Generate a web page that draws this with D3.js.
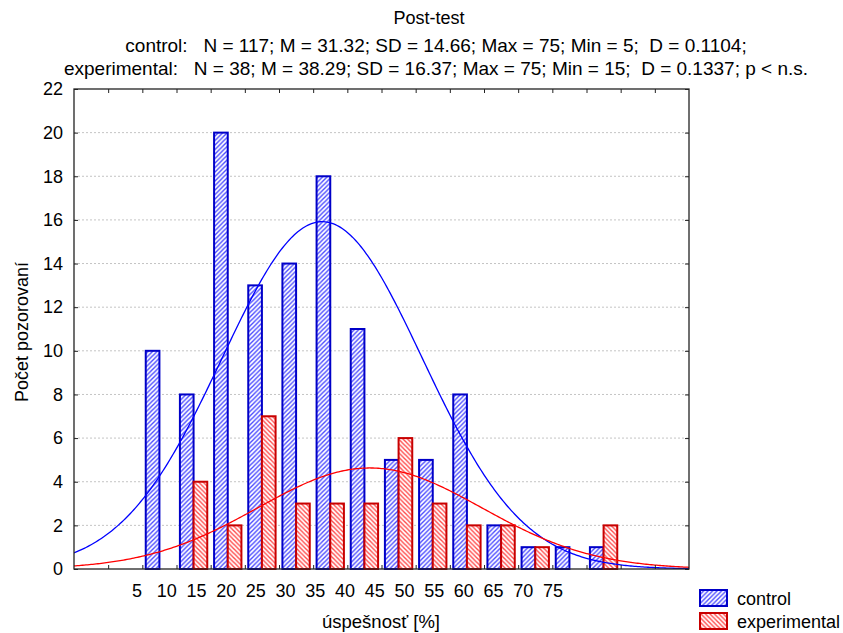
<!DOCTYPE html>
<html>
<head>
<meta charset="utf-8">
<script src="https://cdn.jsdelivr.net/npm/d3@7"></script>
<style>
  body { margin: 0; background: #fff; }
  text { font-family: "Liberation Sans", Arial, sans-serif; fill: #000; }
</style>
</head>
<body>
<svg id="chart" width="843" height="633"></svg>
<script>
// ---- data ----
const binStarts = [5, 10, 15, 20, 25, 30, 35, 40, 45, 50, 55, 60, 65, 70];
const controlCounts = [10, 8, 20, 13, 14, 18, 11, 5, 5, 8, 2, 1, 1, 1];
const experimentalCounts = [0, 4, 2, 7, 3, 3, 3, 6, 3, 2, 2, 1, 0, 2];
const seriesNames = ["control", "experimental"];
const seriesN = [117, 38];
const seriesMean = [31.32, 38.29];
const seriesSD = [14.66, 16.37];
const binWidth = 5;
const xTickLabels = [5, 10, 15, 20, 25, 30, 35, 40, 45, 50, 55, 60, 65, 70, 75];
const yTicks = [0, 2, 4, 6, 8, 10, 12, 14, 16, 18, 20, 22];
const titleLines = [
  "Post-test",
  "control:   N = 117; M = 31.32; SD = 14.66; Max = 75; Min = 5;  D = 0.1104;",
  "experimental:   N = 38; M = 38.29; SD = 16.37; Max = 75; Min = 15;  D = 0.1337; p < n.s."
];

// ---- layout ----
const svg = d3.select("#chart");
const L = 74, R = 689, T = 89, B = 569;
const x = d3.scaleLinear().domain([-5, 85]).range([L, R]);
const y = d3.scaleLinear().domain([0, 22]).range([B, T]);
const xLab = d3.scaleLinear().domain([5, 75]).range([137, 553]);
const colors = { control: { stroke: "#0000c8", hatch: "#4a4aff", curve: "#0000ff" },
                 experimental: { stroke: "#c80000", hatch: "#ff4a4a", curve: "#ff0000" } };

// patterns
const defs = svg.append("defs");
const pc = defs.append("pattern").attr("id", "hatch-control")
  .attr("patternUnits", "userSpaceOnUse").attr("width", 4.5).attr("height", 4.5);
pc.append("rect").attr("width", 4.5).attr("height", 4.5).attr("fill", "#fff");
pc.append("path").attr("d", "M-1,1 L1,-1 M0,4.5 L4.5,0 M3.5,5.5 L5.5,3.5")
  .attr("stroke", colors.control.hatch).attr("stroke-width", 1.4);
const pe = defs.append("pattern").attr("id", "hatch-experimental")
  .attr("patternUnits", "userSpaceOnUse").attr("width", 4.5).attr("height", 4.5);
pe.append("rect").attr("width", 4.5).attr("height", 4.5).attr("fill", "#fff");
pe.append("path").attr("d", "M-1,3.5 L1,5.5 M0,0 L4.5,4.5 M3.5,-1 L5.5,1")
  .attr("stroke", colors.experimental.hatch).attr("stroke-width", 1.4);
defs.append("clipPath").attr("id", "plotclip").append("rect")
  .attr("x", L).attr("y", T).attr("width", R - L).attr("height", B - T);

// grid
svg.append("g").selectAll("line").data(yTicks.filter(d => d > 0 && d < 22)).join("line")
  .attr("x1", L).attr("x2", R).attr("y1", d => y(d)).attr("y2", d => y(d))
  .attr("stroke", "#c4c4c4").attr("stroke-width", 1).attr("stroke-dasharray", "2,2");

// bars
const binPx = x(binWidth) - x(0);
const inner = d3.scaleBand().domain(seriesNames).range([0.1 * binPx, 0.9 * binPx]).padding(0);
const rows = [];
binStarts.forEach((b, i) => {
  rows.push({ s: "control", b, v: controlCounts[i] });
  rows.push({ s: "experimental", b, v: experimentalCounts[i] });
});
svg.append("g").selectAll("rect").data(rows.filter(d => d.v > 0)).join("rect")
  .attr("x", d => x(d.b) + inner(d.s))
  .attr("width", inner.bandwidth())
  .attr("y", d => y(d.v))
  .attr("height", d => y(0) - y(d.v))
  .attr("fill", d => `url(#hatch-${d.s})`)
  .attr("stroke", d => colors[d.s].stroke)
  .attr("stroke-width", 2);

// normal curves (fitted from N, M, SD shown in the title)
const xs = d3.range(-5, 85.01, 0.25);
seriesNames.forEach((s, i) => {
  const N = seriesN[i], M = seriesMean[i], SD = seriesSD[i];
  const f = v => N * binWidth / (SD * Math.sqrt(2 * Math.PI)) * Math.exp(-((v - M) ** 2) / (2 * SD * SD));
  svg.append("path").datum(xs)
    .attr("clip-path", "url(#plotclip)")
    .attr("d", d3.line().x(v => x(v)).y(v => y(f(v))))
    .attr("fill", "none").attr("stroke", colors[s].curve).attr("stroke-width", 1.3);
});

// axes (inward ticks)
const edges = d3.range(0, 85, 5);
svg.append("g").attr("transform", `translate(0,${B})`)
  .call(d3.axisBottom(x).tickValues(edges).tickSize(-4).tickFormat(""))
  .call(g => g.select(".domain").remove());
svg.append("g").attr("transform", `translate(0,${T})`)
  .call(d3.axisTop(x).tickValues(edges).tickSize(-4).tickFormat(""))
  .call(g => g.select(".domain").remove());
svg.append("g").attr("transform", `translate(${L},0)`)
  .call(d3.axisLeft(y).tickValues(yTicks).tickSize(-4).tickPadding(14).tickFormat(d3.format("d")))
  .call(g => g.select(".domain").remove())
  .call(g => g.selectAll("text").attr("x", -11).style("font-size", "18px").style("font-family", "Liberation Sans, Arial, sans-serif"));
svg.append("g").attr("transform", `translate(${R},0)`)
  .call(d3.axisRight(y).tickValues(yTicks).tickSize(-4).tickFormat(""))
  .call(g => g.select(".domain").remove());
svg.selectAll(".tick line").attr("stroke", "#222");
svg.append("rect").attr("x", L).attr("y", T).attr("width", R - L).attr("height", B - T)
  .attr("fill", "none").attr("stroke", "#222").attr("stroke-width", 1.3);

// x tick labels
svg.append("g").selectAll("text").data(xTickLabels).join("text")
  .attr("x", d => xLab(d)).attr("y", 597)
  .attr("text-anchor", "middle").style("font-size", "18px").text(d => d);

// axis titles
svg.append("text").attr("x", 381).attr("y", 628).attr("text-anchor", "middle")
  .style("font-size", "18.5px").text("úspešnosť [%]");
svg.append("text").attr("transform", "translate(28,332) rotate(-90)").attr("text-anchor", "middle")
  .style("font-size", "18px").text("Počet pozorovaní");

// title
const titleY = [24, 52, 75];
const titleX = [429, 436, 436];
svg.append("g").selectAll("text").data(titleLines).join("text")
  .attr("x", (d, i) => titleX[i]).attr("y", (d, i) => titleY[i]).attr("text-anchor", "middle")
  .style("font-size", (d, i) => i === 0 ? "18px" : "19px").style("white-space", "pre").text(d => d);

// legend
const leg = svg.append("g").selectAll("g").data(seriesNames).join("g")
  .attr("transform", (d, i) => `translate(700,${590 + i * 23})`);
leg.append("rect").attr("width", 27).attr("height", 16)
  .attr("fill", d => `url(#hatch-${d})`).attr("stroke", d => colors[d].stroke).attr("stroke-width", 2);
leg.append("text").attr("x", 37).attr("y", 15).style("font-size", "18px").text(d => d);
</script>
</body>
</html>
